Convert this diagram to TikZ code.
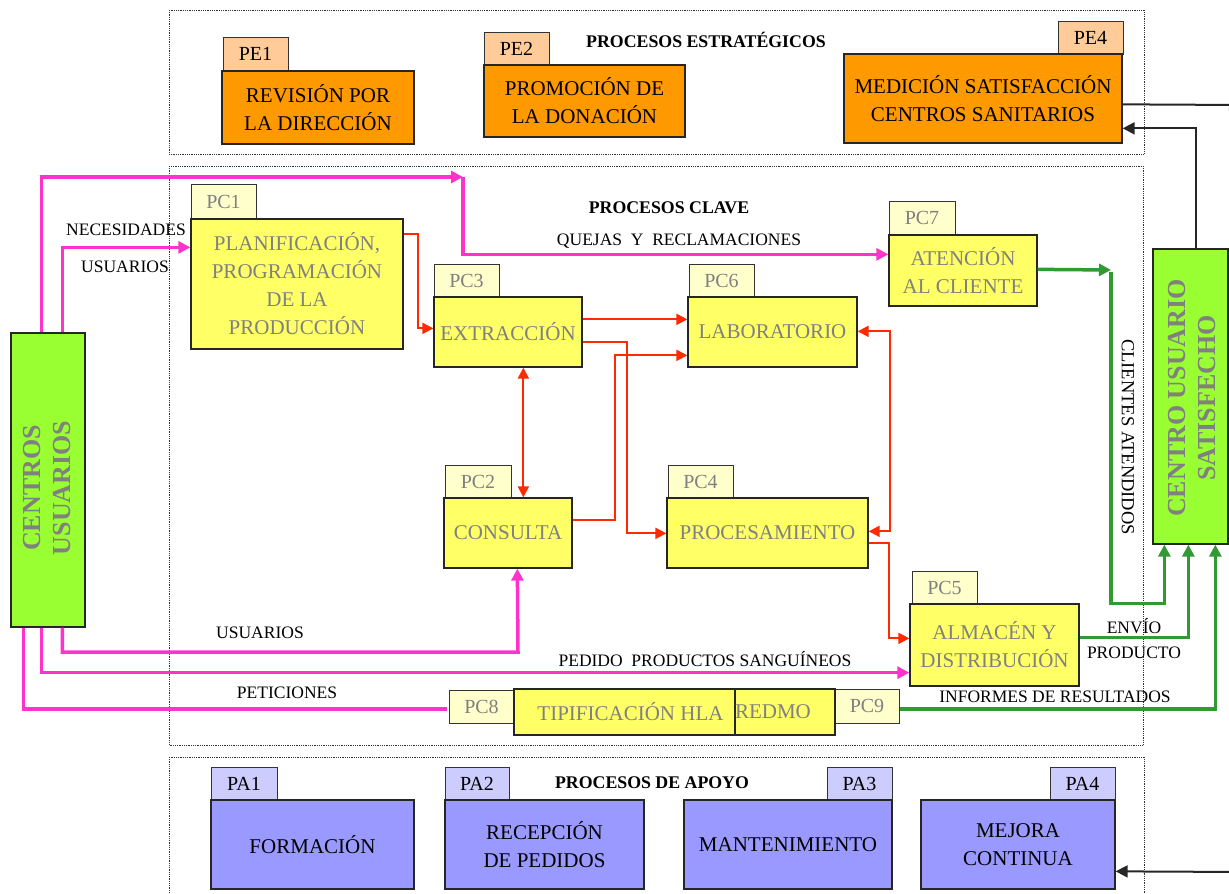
\documentclass[tikz,border=0pt]{standalone}
\usepackage{fontspec}
\setmainfont{Liberation Serif}
\usetikzlibrary{arrows.meta,calc}
\definecolor{orng}{HTML}{FF9900}
\definecolor{orngtab}{HTML}{FFCC99}
\definecolor{ylw}{HTML}{FFFF66}
\definecolor{ylwtab}{HTML}{FFFFCC}
\definecolor{grn}{HTML}{99FF33}
\definecolor{prp}{HTML}{9999FF}
\definecolor{prptab}{HTML}{CCCCFF}
\definecolor{pinkln}{HTML}{FF33CC}
\definecolor{redln}{HTML}{FF2A00}
\definecolor{grnln}{HTML}{339933}
\definecolor{txtgray}{HTML}{808080}
\begin{document}
\begin{tikzpicture}[x=1pt,y=-1pt,
  tabbox/.style={draw=black!80, line width=1pt, inner sep=0pt, minimum width=65, minimum height=33, font=\fontsize{20}{24}\selectfont},
  pbox/.style={draw=black!85, line width=1.3pt, inner sep=0pt, align=center, font=\fontsize{21}{28}\selectfont},
  etab/.style={tabbox, fill=orngtab},
  ebox/.style={pbox, fill=orng},
  ctab/.style={tabbox, fill=ylwtab, text=txtgray},
  cbox/.style={pbox, fill=ylw, text=txtgray},
  atab/.style={tabbox, fill=prptab},
  abox/.style={pbox, fill=prp},
  ubox/.style={pbox, fill=grn},
  vtext/.style={text=txtgray, align=center, font=\fontsize{26}{30}\selectfont\bfseries},
  frame/.style={densely dotted, line width=0.8pt, black!80},
  head/.style={font=\fontsize{17.8}{20}\selectfont\bfseries, inner sep=0pt},
  lbl/.style={font=\fontsize{17.5}{20}\selectfont, inner sep=0pt},
  pk/.style={pinkln, line width=3.5pt, -{Triangle[length=12pt,width=12pt]}},
  pkn/.style={pinkln, line width=3.5pt},
  rd/.style={redln, line width=2pt, -{Triangle[length=11pt,width=11pt]}},
  rdd/.style={redln, line width=2pt, {Triangle[length=11pt,width=11pt]}-{Triangle[length=11pt,width=11pt]}},
  gr/.style={grnln, line width=3.5pt, -{Triangle[length=12pt,width=12pt]}},
  bk/.style={black!85, line width=2pt, -{Triangle[length=12pt,width=12pt]}}
]
\useasboundingbox (0,0) rectangle (1229,894);

% frames
\draw[frame] (169,10) rectangle (1144,154);
\draw[frame] (169,166) rectangle (1143,745);
\draw[frame] (169,757) rectangle (1144,910);

\node[head] (hE) at (706,40) {PROCESOS ESTRATÉGICOS};
\node[head] (hC) at (669,208) {PROCESOS CLAVE};
\node[head] (hA) at (652,783) {PROCESOS DE APOYO};

% strategic
\node[etab] (pe1t) at (255.5,54) {PE1};
\node[ebox, minimum width=192, minimum height=73] (pe1) at (318,107.5) {REVISIÓN POR\\LA DIRECCIÓN};
\node[etab] (pe2t) at (516.5,48.5) {PE2};
\node[ebox, minimum width=201, minimum height=72] (pe2) at (584.5,101) {PROMOCIÓN DE\\LA DONACIÓN};
\node[etab] (pe4t) at (1090.5,37.5) {PE4};
\node[ebox, minimum width=278, minimum height=89] (pe4) at (983,98.5) {MEDICIÓN SATISFACCIÓN\\CENTROS SANITARIOS};

% key processes
\node[ctab, minimum height=35] (pc1t) at (223.5,201.5) {PC1};
\node[cbox, minimum width=212, minimum height=130] (pc1) at (297,284) {PLANIFICACIÓN,\\PROGRAMACIÓN\\DE LA\\PRODUCCIÓN};
\node[ctab] (pc3t) at (466.5,280.5) {PC3};
\node[cbox, minimum width=148, minimum height=70] (pc3) at (508,332) {EXTRACCIÓN};
\node[ctab] (pc6t) at (721.5,280.5) {PC6};
\node[cbox, minimum width=169, minimum height=70] (pc6) at (772.5,332) {LABORATORIO};
\node[ctab, minimum width=66, minimum height=34] (pc7t) at (922,218) {PC7};
\node[cbox, minimum width=148, minimum height=71] (pc7) at (963,270.5) {ATENCIÓN\\AL CLIENTE};
\node[ctab, minimum width=66] (pc2t) at (478,481.5) {PC2};
\node[cbox, minimum width=128, minimum height=70] (pc2) at (508,533) {CONSULTA};
\node[ctab] (pc4t) at (700.5,481.5) {PC4};
\node[cbox, minimum width=201, minimum height=70] (pc4) at (767.5,533) {PROCESAMIENTO};
\node[ctab] (pc5t) at (944.5,587.5) {PC5};
\node[cbox, minimum width=169, minimum height=82] (pc5) at (994.5,645) {ALMACÉN Y\\DISTRIBUCIÓN};
\node[ctab] (pc8t) at (481.5,706.5) {PC8};
\node[ctab, minimum width=64, minimum height=34] (pc9t) at (867,706) {PC9};
\node[cbox, minimum width=221, minimum height=46] (tip) at (624.5,712) {\hspace*{12pt}TIPIFICACIÓN HLA};
\node[cbox, minimum width=100, minimum height=46, text width=100, align=left] (redmo) at (785,712) {REDMO};

% support
\node[atab, minimum width=66] (pa1t) at (244,783.5) {PA1};
\node[abox, minimum width=203, minimum height=89] (pa1) at (312.5,844.5) {FORMACIÓN};
\node[atab, minimum width=64] (pa2t) at (477,783.5) {PA2};
\node[abox, minimum width=199, minimum height=89] (pa2) at (544.5,844.5) {RECEPCIÓN\\DE PEDIDOS};
\node[atab] (pa3t) at (859.5,783.5) {PA3};
\node[abox, minimum width=208, minimum height=89] (pa3) at (788,844.5) {MANTENIMIENTO};
\node[atab] (pa4t) at (1082.5,783.5) {PA4};
\node[abox, minimum width=194, minimum height=89] (pa4) at (1018,844.5) {MEJORA\\CONTINUA};

% user boxes
\node[ubox, minimum width=74, minimum height=294] (cu) at (48,480) {};
\node[vtext, rotate=90] (cutxt) at (47,488) {CENTROS\\USUARIOS};
\node[ubox, minimum width=75, minimum height=295] (sat) at (1190.5,396.5) {};
\node[vtext, rotate=90] (sattxt) at (1192,398) {CENTRO USUARIO\\SATISFECHO};

% labels
\node[lbl] (lnec) at (126,230) {NECESIDADES};
\node[lbl] (lusu) at (125,267) {USUARIOS};
\node[lbl] (lque) at (679,241) {QUEJAS\ \ Y\ \ RECLAMACIONES};
\node[lbl] (lusu2) at (260,633) {USUARIOS};
\node[lbl] (lped) at (705,659) {PEDIDO\ \ PRODUCTOS SANGUÍNEOS};
\node[lbl] (lpet) at (287,693) {PETICIONES};
\node[lbl] (linf) at (1055,697) {INFORMES DE RESULTADOS};
\node[lbl] (lenv) at (1134,626) {ENVÍO};
\node[lbl] (lpro) at (1134,653) {PRODUCTO};
\node[lbl, rotate=-90, font=\fontsize{18.5}{20}\selectfont] (lcli) at (1128,437) {CLIENTES ATENDIDOS};

% coordinates
\coordinate (q1) at (463,177);
\coordinate (u1) at (518,652);
\coordinate (g1) at (1111,270);
\coordinate (e1) at (1241,105);
\coordinate (e2) at (1245,872);

% pink connectors
\draw[pk] ($(cu.north west)+(52,0)$) |- ($(pc1.north west)+(0,29)$);
\draw[pk] ($(cu.north west)+(31,0)$) |- (q1);
\draw[pk] (q1) |- ($(pc7.north west)+(0,20)$);
\draw[pk] ($(cu.south west)+(52,0)$) |- (u1) -- ($(pc2.south west)+(74,0)$);
\draw[pk] ($(cu.south west)+(31,0)$) |- ($(pc5.south west)+(0,-14)$);
\draw[pkn] ($(cu.south west)+(13,0)$) |- ($(pc8t.west)+(-2,2.5)$);

% red connectors
\draw[rd] ($(pc1.north east)+(0,16)$) -- ++(14,0) |- ($(pc3.north west)+(0,32)$);
\draw[rd] ($(pc3.north east)+(0,23)$) -- ($(pc6.north west)+(0,23)$);
\draw[rd] ($(pc3.north east)+(0,46)$) -- ++(44,0) |- ($(pc4.north west)+(0,36)$);
\draw[rd] ($(pc2.north east)+(0,23)$) -- ++(42,0) |- ($(pc6.north west)+(0,59)$);
\draw[rdd] ($(pc3.south west)+(90,0)$) -- ($(pc2.north west)+(80,0)$);
\draw[rdd] ($(pc6.north east)+(0,35)$) -- ++(32,0) |- ($(pc4.north east)+(0,34)$);
\draw[rd] ($(pc4.north east)+(0,46)$) -- ++(20,0) |- ($(pc5.north west)+(0,35)$);

% green connectors
\draw[gr] ($(pc7.north east)+(0,35)$) -- (g1);
\draw[gr] ($(g1)+(0,2)$) |- ($(sat.south west)+(12,59)$) -- ($(sat.south west)+(12,0)$);
\draw[gr] ($(pc5.north east)+(0,34)$) -| ($(sat.south west)+(36,0)$);
\draw[gr] ($(pc9t.east)+(0,3)$) -| ($(sat.south west)+(63,0)$);

% black connectors
\draw[bk] ($(pe4.north east)+(0,51)$) -- (e1);
\draw[bk] ($(sat.north west)+(44,0)$) |- ($(pe4.north east)+(0,75)$);
\draw[bk] (e2) -- ($(pa4.north east)+(0,72)$);
\end{tikzpicture}
\end{document}
